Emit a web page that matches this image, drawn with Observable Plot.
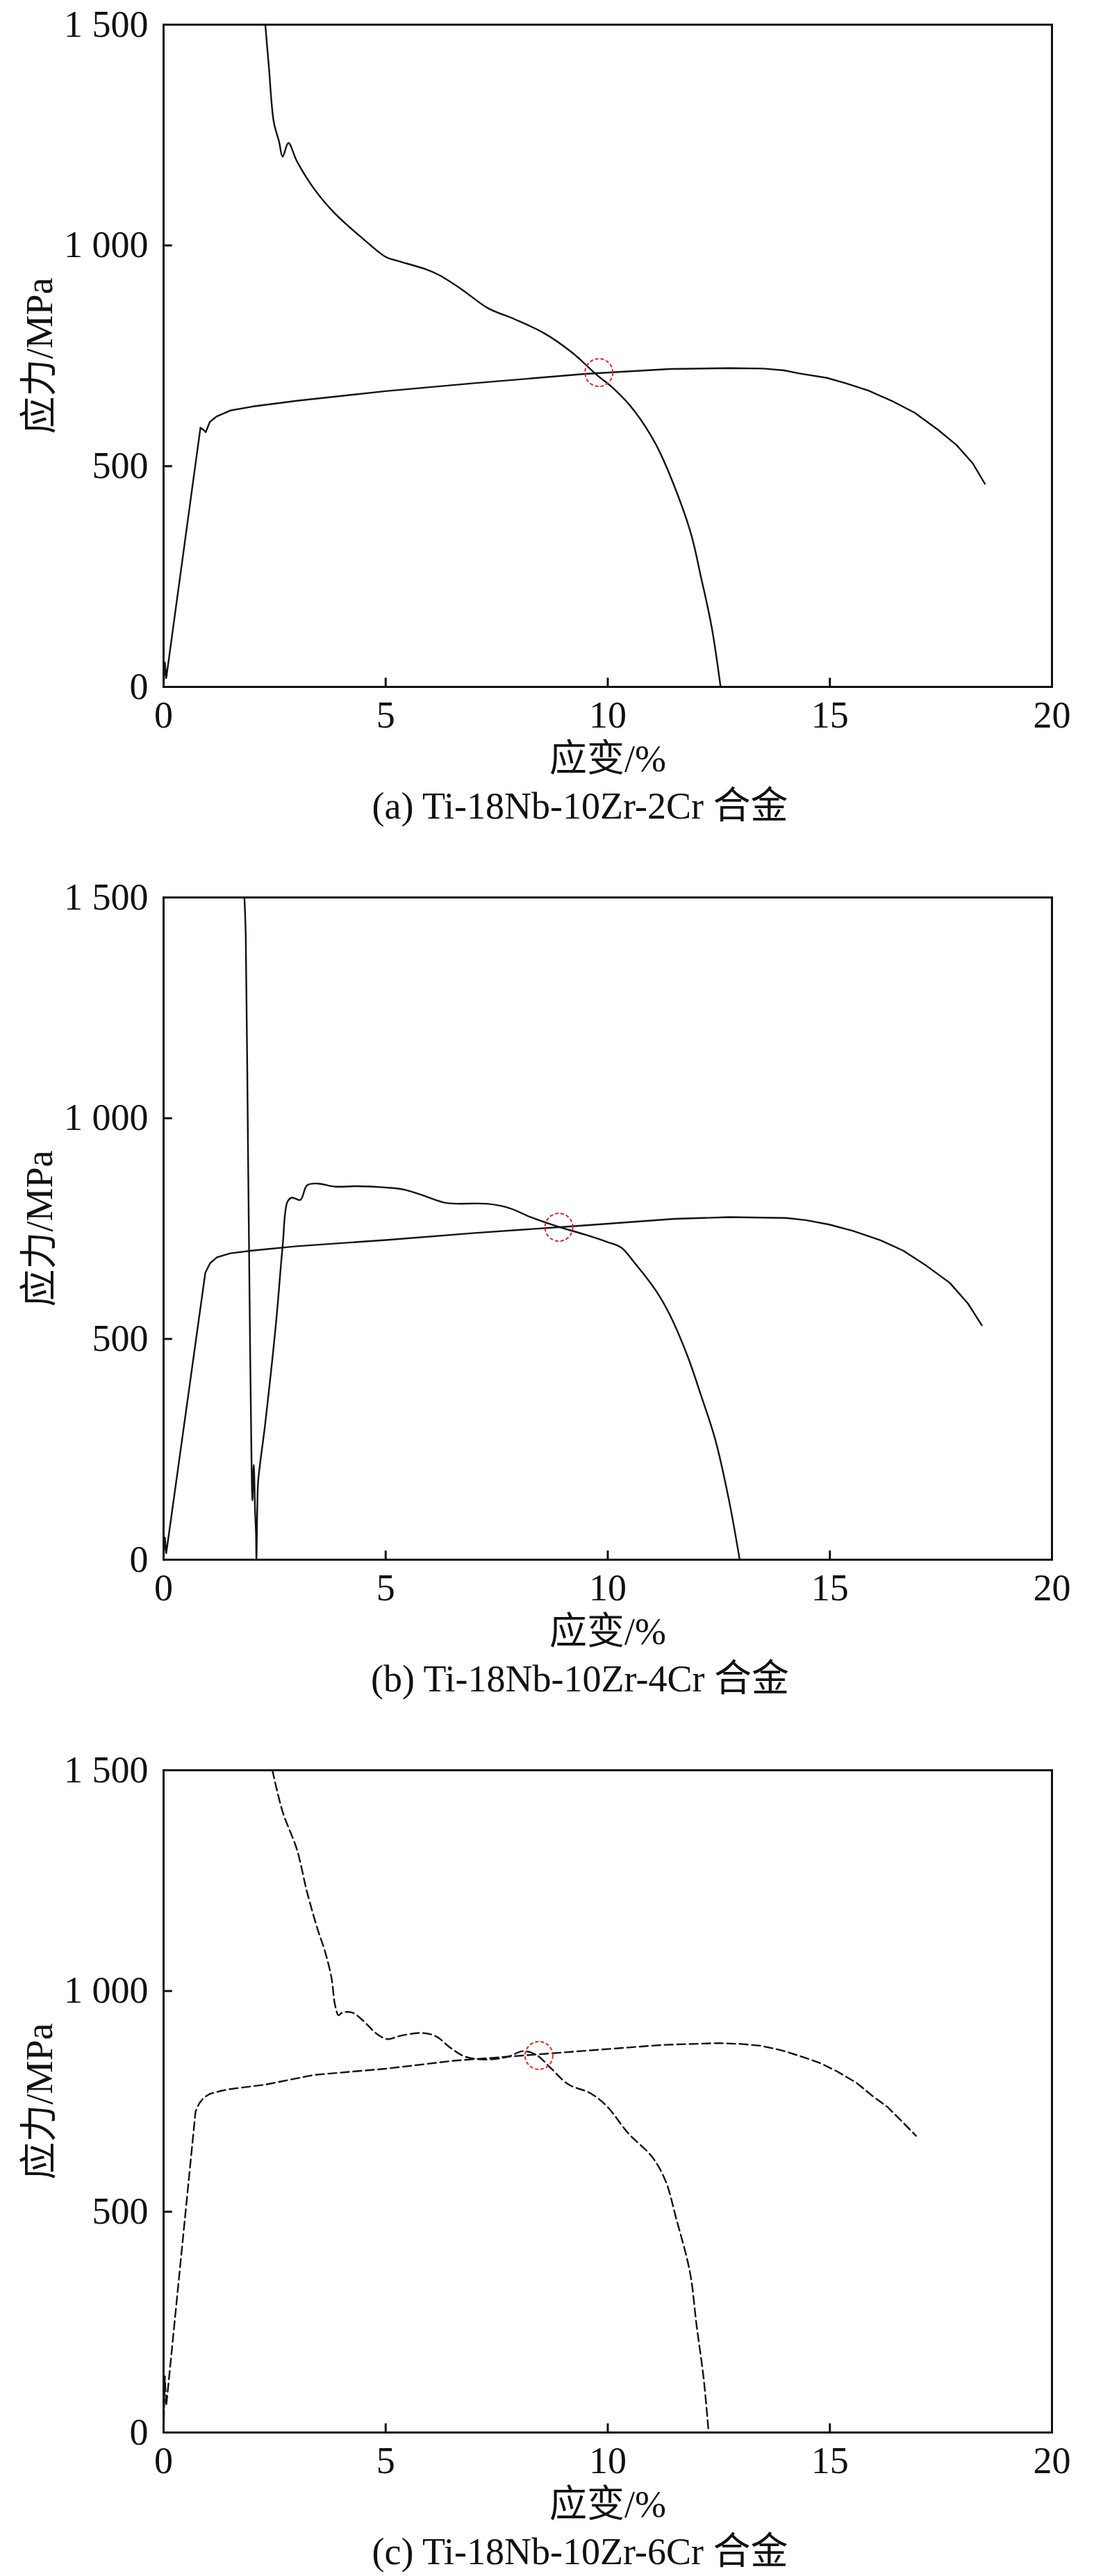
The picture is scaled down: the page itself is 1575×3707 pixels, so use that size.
<!DOCTYPE html>
<html>
<head>
<meta charset="utf-8">
<script src="https://cdn.jsdelivr.net/npm/d3@7"></script>
<script src="https://cdn.jsdelivr.net/npm/@observablehq/plot@0.6"></script>
<style>
  html, body { margin: 0; padding: 0; background: #fff; }
  body { width: 1575px; }
  .panel { position: relative; width: 1575px; height: 1256px; }
  .caption {
    width: 1575px; height: 70px; line-height: 70px;
    font-family: "Liberation Serif", "Noto Sans CJK SC", serif;
    font-size: 54px; color: #111; text-align: center;
    padding-left: 95px; box-sizing: border-box; white-space: nowrap;
  }
</style>
</head>
<body>
<div id="root"></div>
<script>
// ---------- axes ----------
const xDomain = [0, 20];
const yDomain = [0, 1500];
const xTickValues = [0, 5, 10, 15, 20];
const xTickLabels = ["0", "5", "10", "15", "20"];
const yTickValues = [0, 500, 1000, 1500];
const yTickLabels = ["0", "500", "1 000", "1 500"];
const xInnerTicks = [5, 10, 15];
const yInnerTicks = [500, 1000];
const xAxisTitle = "应变/%";
const yAxisTitle = "应力/MPa";
const captions = [
  "(a) Ti-18Nb-10Zr-2Cr 合金",
  "(b) Ti-18Nb-10Zr-4Cr 合金",
  "(c) Ti-18Nb-10Zr-6Cr 合金"
];

// ---------- panel (a) ----------
const a1Strain = [0, 0.03, 0.06, 0.83, 0.9, 0.95, 1.04, 1.2, 1.5, 2.0, 3.0, 5.0, 7.0, 9.5, 11.4, 12.74, 13.5, 13.97, 14.31, 14.93, 15.35, 15.87, 16.39, 16.91, 17.44, 17.85, 18.22, 18.49];
const a1Stress = [0, 55, 20, 587, 582, 577, 600, 613, 626, 635, 648, 670, 688, 709, 720, 722, 721, 717, 710, 700, 688, 671, 648, 621, 582, 548, 506, 460];
const a2Strain = [2.29, 2.37, 2.48, 2.6, 2.68, 2.81, 3.0, 3.39, 3.86, 4.49, 5.0, 5.27, 5.9, 6.2, 6.69, 7.3, 7.9, 8.57, 9.2, 9.75, 10.14, 10.6, 11.08, 11.47, 11.87, 12.1, 12.34, 12.54];
const a2Stress = [1500, 1405, 1280, 1235, 1201, 1232, 1191, 1128, 1072, 1015, 974, 965, 946, 933, 902, 858, 833, 801, 757, 707, 675, 625, 550, 462, 348, 248, 135, 0];
const aMark = [9.8, 712];

// ---------- panel (b) ----------
const b1Strain = [0, 0.03, 0.06, 0.94, 1.05, 1.2, 1.5, 1.98, 3.0, 5.0, 7.0, 9.3, 10.0, 11.5, 12.74, 14.02, 14.46, 14.99, 15.51, 16.13, 16.65, 17.17, 17.7, 18.11, 18.42];
const b1Stress = [0, 50, 15, 650, 672, 685, 694, 700, 710, 724, 740, 756, 761, 772, 776, 774, 769, 759, 745, 724, 700, 666, 627, 580, 531];
const b2Strain = [1.82, 1.85, 1.9, 1.95, 1.98, 2.0, 2.03, 2.06, 2.08, 2.09, 2.11, 2.13, 2.29, 2.53, 2.68, 2.79, 2.89, 3.08, 3.23, 3.47, 3.86, 4.33, 5.0, 5.43, 5.9, 6.37, 7.3, 7.8, 8.26, 8.89, 9.5, 9.98, 10.3, 10.6, 11.08, 11.4, 11.8, 12.1, 12.42, 12.73, 12.97];
const b2Stress = [1500, 1412, 936, 460, 222, 134, 215, 109, 60, 0, 120, 178, 310, 535, 710, 811, 820, 815, 848, 852, 845, 846, 843, 838, 823, 808, 806, 796, 776, 754, 736, 720, 707, 673, 610, 554, 460, 372, 272, 134, 0];
const bMark = [8.9, 753];

// ---------- panel (c) ----------
const c1Strain = [0, 0.03, 0.06, 0.72, 0.8, 0.9, 1.04, 1.3, 1.5, 2.29, 3.39, 5.0, 6.53, 8.1, 9.67, 11.24, 12.5, 13.0, 13.44, 13.9, 14.38, 14.8, 15.16, 15.6, 15.95, 16.3, 16.58, 16.94];
const c1Stress = [0, 127, 60, 727, 745, 758, 767, 774, 778, 788, 810, 824, 842, 854, 866, 878, 882, 880, 876, 866, 851, 836, 818, 792, 763, 737, 709, 672];
const c2Strain = [2.45, 2.68, 3.0, 3.23, 3.47, 3.63, 3.78, 3.86, 3.94, 4.02, 4.25, 4.49, 4.8, 5.04, 5.35, 5.82, 6.14, 6.45, 6.77, 7.16, 7.47, 7.78, 8.1, 8.41, 8.73, 9.12, 9.6, 9.98, 10.45, 11.0, 11.3, 11.54, 11.85, 12.0, 12.16, 12.27];
const c2Stress = [1500, 1406, 1321, 1224, 1139, 1091, 1030, 968, 945, 951, 951, 933, 903, 891, 899, 905, 897, 872, 852, 845, 846, 852, 864, 854, 824, 788, 769, 739, 679, 624, 570, 485, 363, 242, 121, 0];
const cMark = [8.45, 854];

const panels = [
  {series: [[a1Strain, a1Stress], [a2Strain, a2Stress]], mark: aMark, dash: null},
  {series: [[b1Strain, b1Stress], [b2Strain, b2Stress]], mark: bMark, dash: null},
  {series: [[c1Strain, c1Stress], [c2Strain, c2Stress]], mark: cMark, dash: "12,6"}
];
const seriesCurves = ["linear", "catmull-rom"];

const FONT = '"Liberation Serif", "Noto Sans CJK SC", serif';
const root = document.getElementById("root");

panels.forEach((p, k) => {
  const lineMarks = p.series.map(([xs, ys], s) =>
    Plot.line(xs.map((x, i) => ({x, y: ys[i]})), {
      x: "x", y: "y", stroke: "#111", strokeWidth: 2.4,
      curve: seriesCurves[s],
      strokeDasharray: p.dash, clip: true
    })
  );
  const chart = Plot.plot({
    width: 1575,
    height: 1125,
    marginTop: 35,
    marginLeft: 235,
    marginRight: 61,
    marginBottom: 137,
    style: {fontFamily: FONT, fontSize: "54px", color: "#111", background: "#fff"},
    x: {domain: xDomain},
    y: {domain: yDomain},
    marks: [
      Plot.axisX(xTickValues, {tickSize: 0, tickPadding: 20, tickFormat: (d, i) => xTickLabels[i], label: null, fontSize: 54}),
      Plot.axisY(yTickValues, {tickSize: 0, tickPadding: 22, tickFormat: (d, i) => yTickLabels[i], label: null, fontSize: 54}),
      Plot.ruleX(xInnerTicks, {y1: 0, y2: 20, stroke: "#111", strokeWidth: 3}),
      Plot.ruleY(yInnerTicks, {x1: 0, x2: 0.2, stroke: "#111", strokeWidth: 3}),
      ...lineMarks,
      Plot.dot([{x: p.mark[0], y: p.mark[1]}], {
        x: "x", y: "y", r: 20, fill: "none", stroke: "#d42a2a",
        strokeWidth: 2, strokeDasharray: "5,3"
      }),
      Plot.frame({stroke: "#111", strokeWidth: 3}),
      Plot.text([xAxisTitle], {frameAnchor: "bottom", dy: 104, lineAnchor: "middle", textAnchor: "middle", fontSize: 54, fill: "#111"}),
      Plot.text([yAxisTitle], {frameAnchor: "left", dx: -178, rotate: -90, lineAnchor: "middle", textAnchor: "middle", fontSize: 54, fill: "#111"})
    ]
  });
  const panel = document.createElement("div");
  panel.className = "panel";
  panel.appendChild(chart);
  const cap = document.createElement("div");
  cap.className = "caption";
  cap.textContent = captions[k];
  panel.appendChild(cap);
  root.appendChild(panel);
});
</script>
</body>
</html>
